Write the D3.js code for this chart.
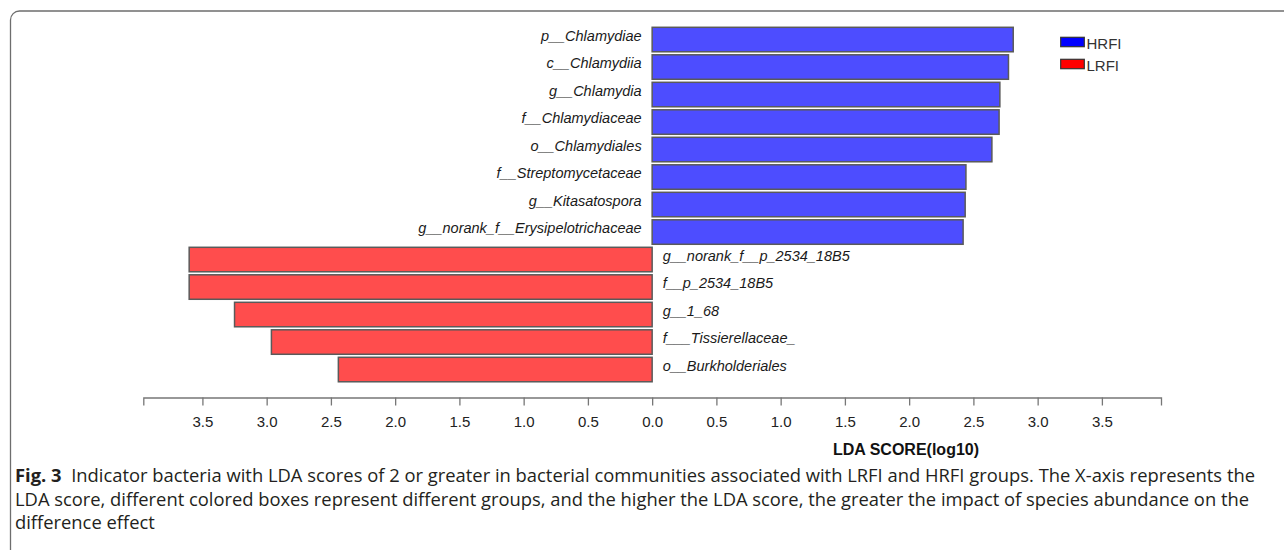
<!DOCTYPE html>
<html>
<head>
<meta charset="utf-8">
<script src="https://cdn.jsdelivr.net/npm/d3@7/dist/d3.min.js"></script>
<style>
  html, body { margin: 0; padding: 0; background: #fff; }
  svg { display: block; }
</style>
</head>
<body>
<svg id="chart" width="1284" height="550"></svg>
<script>
// Taxa in plotting order (top to bottom), their LDA scores and enriched group
const taxa = [
  "p__Chlamydiae",
  "c__Chlamydiia",
  "g__Chlamydia",
  "f__Chlamydiaceae",
  "o__Chlamydiales",
  "f__Streptomycetaceae",
  "g__Kitasatospora",
  "g__norank_f__Erysipelotrichaceae",
  "g__norank_f__p_2534_18B5",
  "f__p_2534_18B5",
  "g__1_68",
  "f___Tissierellaceae_",
  "o__Burkholderiales"
];
const ldaScores = [2.81, 2.773, 2.706, 2.70, 2.644, 2.442, 2.436, 2.42, 3.603, 3.603, 3.25, 2.963, 2.442];
const groups = ["HRFI","HRFI","HRFI","HRFI","HRFI","HRFI","HRFI","HRFI","LRFI","LRFI","LRFI","LRFI","LRFI"];

const legendGroups = ["HRFI", "LRFI"];
const tickValues = [-3.5, -3.0, -2.5, -2.0, -1.5, -1.0, -0.5, 0.0, 0.5, 1.0, 1.5, 2.0, 2.5, 3.0, 3.5];
const axisTitle = "LDA SCORE(log10)";
const captionLabel = "Fig. 3";
const captionLines = [
  "Indicator bacteria with LDA scores of 2 or greater in bacterial communities associated with LRFI and HRFI groups. The X-axis represents the",
  "LDA score, different colored boxes represent different groups, and the higher the LDA score, the greater the impact of species abundance on the",
  "difference effect"
];

const barFill = { HRFI: "#4d4dff", LRFI: "#ff4d4d" };
const legendFill = { HRFI: "#0000ff", LRFI: "#ff0000" };

const svg = d3.select("#chart");
const labelFont = "'Liberation Sans', Arial, Helvetica, sans-serif";

// Panel frame with rounded top-left corner
svg.append("rect")
  .attr("x", 10.5).attr("y", 11)
  .attr("width", 1500).attr("height", 700)
  .attr("rx", 9).attr("ry", 9)
  .attr("fill", "none")
  .attr("stroke", "#6e6e6e")
  .attr("stroke-width", 1.3);

// Scales: signed score so LRFI extends to the left of zero
const x = d3.scaleLinear().domain([-3.96, 3.96]).range([143.3, 1161]);
const bandStep = 27.5, bandPad = 0.11, bandTop = 27.3;
const y = d3.scaleBand()
  .domain(taxa)
  .range([bandTop, bandTop + bandStep * (taxa.length - bandPad)])
  .paddingInner(bandPad)
  .paddingOuter(0);

const rows = taxa.map((t, i) => ({
  taxon: t,
  score: ldaScores[i],
  group: groups[i],
  signed: groups[i] === "HRFI" ? ldaScores[i] : -ldaScores[i]
}));

// Bars
svg.append("g").selectAll("rect")
  .data(rows)
  .join("rect")
  .attr("x", d => Math.min(x(0), x(d.signed)))
  .attr("y", d => y(d.taxon))
  .attr("width", d => Math.abs(x(d.signed) - x(0)))
  .attr("height", y.bandwidth())
  .attr("fill", d => barFill[d.group])
  .attr("stroke", "#5a5a5a")
  .attr("stroke-width", 1.5);

// Taxon labels on the opposite side of zero
svg.append("g").selectAll("text")
  .data(rows)
  .join("text")
  .attr("x", d => d.group === "HRFI" ? x(0) - 10.5 : x(0) + 10.5)
  .attr("y", d => y(d.taxon) + y.bandwidth() / 2 + 1.2)
  .attr("text-anchor", d => d.group === "HRFI" ? "end" : "start")
  .attr("font-family", labelFont)
  .attr("font-style", "italic")
  .attr("font-size", 14.5)
  .attr("fill", "#1a1a1a")
  .text(d => d.taxon);

// X axis
const axis = d3.axisBottom(x)
  .tickValues(tickValues)
  .tickSize(8)
  .tickSizeOuter(8)
  .tickPadding(11)
  .tickFormat(d => Math.abs(d).toFixed(1));

const gAxis = svg.append("g")
  .attr("transform", "translate(0,397.5)")
  .call(axis);
gAxis.select(".domain").attr("stroke", "#777").attr("stroke-width", 1.3);
gAxis.selectAll(".tick line").attr("stroke", "#777").attr("stroke-width", 1.3);
gAxis.selectAll(".tick text")
  .attr("font-family", labelFont)
  .attr("font-size", 15)
  .attr("fill", "#222");

svg.append("text")
  .attr("x", 906).attr("y", 455)
  .attr("text-anchor", "middle")
  .attr("font-family", labelFont)
  .attr("font-weight", "bold")
  .attr("font-size", 16)
  .attr("fill", "#111")
  .text(axisTitle);

// Legend
const legend = svg.append("g").selectAll("g")
  .data(legendGroups)
  .join("g")
  .attr("transform", (d, i) => `translate(1060.7,${37.3 + i * 22})`);
legend.append("rect")
  .attr("width", 23.6).attr("height", 9.4)
  .attr("fill", d => legendFill[d])
  .attr("stroke", "#333")
  .attr("stroke-width", 1.2);
legend.append("text")
  .attr("x", 25.8).attr("y", 11.3)
  .attr("font-family", labelFont)
  .attr("font-size", 15)
  .attr("fill", "#333")
  .text(d => d);

// Figure caption
const capFont = "'Open Sans', 'Noto Sans', sans-serif";
const capX = 15;
const capBase = [482, 505.5, 529];
const capWidths = [1240, 1234, null];
const cap = svg.append("g").attr("fill", "#231f20");
const capTexts = captionLines.map((line, i) => {
  const t = cap.append("text")
    .attr("x", capX).attr("y", capBase[i])
    .attr("font-family", capFont)
    .attr("font-size", 14);
  if (i === 0) {
    t.append("tspan").attr("font-weight", "bold").text(captionLabel);
    t.append("tspan").text("\u00a0 " + line);
  } else {
    t.text(line);
  }
  return t;
});
// size the caption so the first line spans the panel width
const natural = capTexts[0].node().getComputedTextLength();
const capSize = 14 * capWidths[0] / natural;
capTexts.forEach((t, i) => {
  t.attr("font-size", capSize);
  if (capWidths[i]) {
    t.attr("textLength", capWidths[i]).attr("lengthAdjust", "spacing");
  }
});
</script>
</body>
</html>
